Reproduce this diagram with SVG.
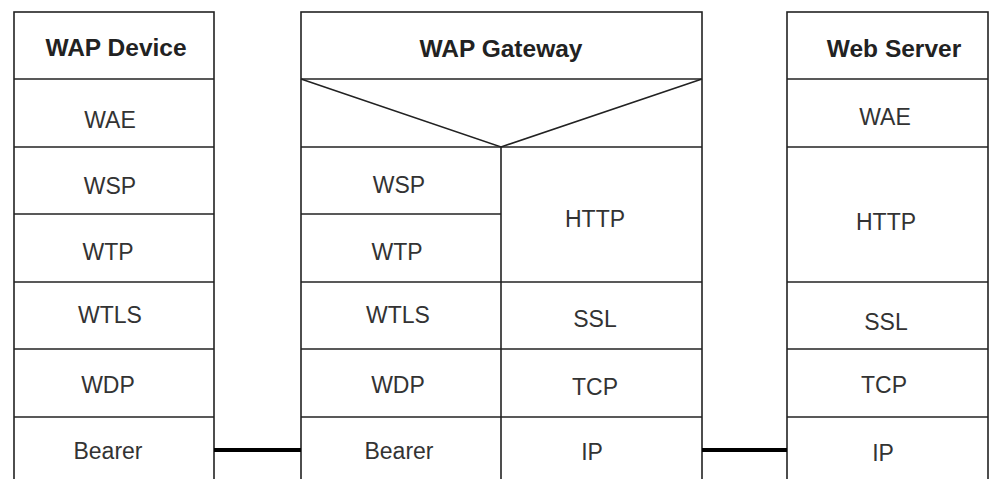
<svg xmlns="http://www.w3.org/2000/svg" width="992" height="479" viewBox="0 0 992 479">
  <style>
    .box { fill: #ffffff; stroke: #222222; stroke-width: 1.6; }
    .rule { stroke: #222222; stroke-width: 1.6; fill: none; }
    .head { font-family: "Liberation Sans", Arial, sans-serif; font-weight: bold; font-size: 24.5px; fill: #222222; text-anchor: middle; }
    .layer { font-family: "Liberation Sans", Arial, sans-serif; font-size: 23px; fill: #333333; text-anchor: middle; }
    .link { stroke: #000000; stroke-width: 4; fill: none; }
  </style>
  <rect width="992" height="479" fill="#ffffff"/>

  <!-- WAP device protocol stack -->
  <g id="wap-device">
    <rect class="box" x="14" y="12" width="200" height="490"/>
    <g id="device-header"><text class="head" x="116" y="56">WAP Device</text></g>
    <line class="rule" x1="14" y1="79" x2="214" y2="79"/>
    <g id="device-wae"><text class="layer" x="110" y="128">WAE</text></g>
    <line class="rule" x1="14" y1="147" x2="214" y2="147"/>
    <g id="device-wsp"><text class="layer" x="110" y="194">WSP</text></g>
    <line class="rule" x1="14" y1="214" x2="214" y2="214"/>
    <g id="device-wtp"><text class="layer" x="108" y="260">WTP</text></g>
    <line class="rule" x1="14" y1="282" x2="214" y2="282"/>
    <g id="device-wtls"><text class="layer" x="110" y="323">WTLS</text></g>
    <line class="rule" x1="14" y1="349" x2="214" y2="349"/>
    <g id="device-wdp"><text class="layer" x="108" y="393">WDP</text></g>
    <line class="rule" x1="14" y1="417" x2="214" y2="417"/>
    <g id="device-bearer"><text class="layer" x="108" y="459">Bearer</text></g>
  </g>

  <!-- WAP gateway: WAP stack on the left, internet stack on the right -->
  <g id="wap-gateway">
    <rect class="box" x="301" y="12" width="401" height="490"/>
    <g id="gateway-header"><text class="head" x="501" y="57">WAP Gateway</text></g>
    <line class="rule" x1="301" y1="79" x2="702" y2="79"/>
    <polyline class="rule" points="301,79 501,147 702,79"/>
    <line class="rule" x1="301" y1="147" x2="702" y2="147"/>
    <line class="rule" x1="501" y1="147" x2="501" y2="502"/>
    <g id="gateway-wsp"><text class="layer" x="399" y="193">WSP</text></g>
    <line class="rule" x1="301" y1="214" x2="501" y2="214"/>
    <g id="gateway-wtp"><text class="layer" x="397" y="260">WTP</text></g>
    <g id="gateway-http"><text class="layer" x="595" y="227">HTTP</text></g>
    <line class="rule" x1="301" y1="282" x2="702" y2="282"/>
    <g id="gateway-wtls"><text class="layer" x="398" y="323">WTLS</text></g>
    <g id="gateway-ssl"><text class="layer" x="595" y="327">SSL</text></g>
    <line class="rule" x1="301" y1="349" x2="702" y2="349"/>
    <g id="gateway-wdp"><text class="layer" x="398" y="393">WDP</text></g>
    <g id="gateway-tcp"><text class="layer" x="595" y="395">TCP</text></g>
    <line class="rule" x1="301" y1="417" x2="702" y2="417"/>
    <g id="gateway-bearer"><text class="layer" x="399" y="459">Bearer</text></g>
    <g id="gateway-ip"><text class="layer" x="592" y="460">IP</text></g>
  </g>

  <!-- Web server protocol stack -->
  <g id="web-server">
    <rect class="box" x="787" y="12" width="201" height="490"/>
    <g id="server-header"><text class="head" x="894" y="57">Web Server</text></g>
    <line class="rule" x1="787" y1="79" x2="988" y2="79"/>
    <g id="server-wae"><text class="layer" x="885" y="125">WAE</text></g>
    <line class="rule" x1="787" y1="147" x2="988" y2="147"/>
    <g id="server-http"><text class="layer" x="886" y="230">HTTP</text></g>
    <line class="rule" x1="787" y1="282" x2="988" y2="282"/>
    <g id="server-ssl"><text class="layer" x="886" y="330">SSL</text></g>
    <line class="rule" x1="787" y1="349" x2="988" y2="349"/>
    <g id="server-tcp"><text class="layer" x="884" y="393">TCP</text></g>
    <line class="rule" x1="787" y1="417" x2="988" y2="417"/>
    <g id="server-ip"><text class="layer" x="883" y="461">IP</text></g>
  </g>

  <!-- Physical links between the stacks -->
  <g id="connectors">
    <line class="link" x1="214" y1="450" x2="301" y2="450"/>
    <line class="link" x1="702" y1="450" x2="787" y2="450"/>
  </g>
</svg>
